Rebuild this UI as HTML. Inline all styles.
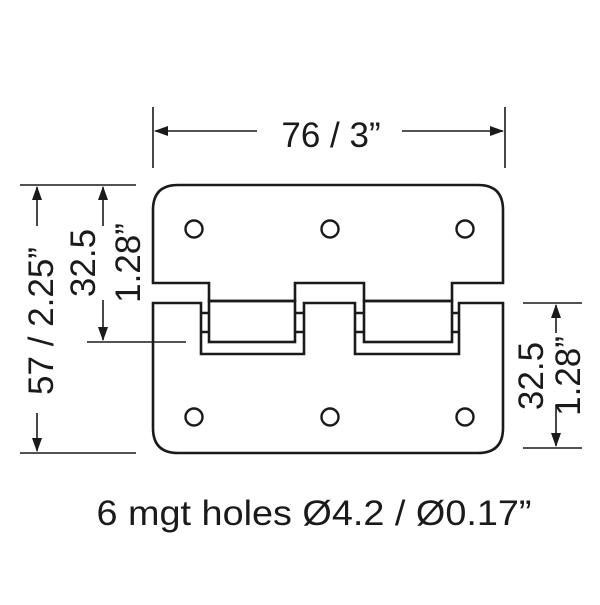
<!DOCTYPE html>
<html><head><meta charset="utf-8"><style>html,body{margin:0;padding:0;background:#fff}</style></head>
<body>
<svg width="600" height="600" viewBox="0 0 600 600" xmlns="http://www.w3.org/2000/svg">
<defs>
<marker id="a" markerWidth="14" markerHeight="10" refX="13" refY="5" orient="auto" markerUnits="userSpaceOnUse">
<path d="M0,0 L14,5 L0,10 Z" fill="#1a1a1a"/></marker>
</defs>
<g fill="none" stroke="#1a1a1a" stroke-width="2.6">
<path d="M153,283 L153,210 Q153,185 178,185 L478,185 Q503,185 503,210 L503,283 L452,283 L452,301 L364,301 L364,283 L295,283 L295,301 L209,301 L209,283 Z"/>
<path d="M153,303 L201,303 L201,354 L304,354 L304,303 L355,303 L355,354 L459,354 L459,303 L503,303 L503,428 Q503,453 478,453 L178,453 Q153,453 153,428 Z"/>
<rect x="209" y="301" width="86" height="41"/>
<rect x="364" y="301" width="88" height="41"/>
<path d="M201,313 H209 M201,332 H209 M295,313 H304 M295,332 H304 M355,313 H364 M355,332 H364 M452,313 H459 M452,332 H459"/>
</g>
<g fill="none" stroke="#1a1a1a" stroke-width="2.4">
<circle cx="194" cy="229" r="8.5"/><circle cx="330" cy="229" r="8.5"/><circle cx="465" cy="229" r="8.5"/>
<circle cx="194" cy="417" r="8.5"/><circle cx="330" cy="417" r="8.5"/><circle cx="465" cy="417" r="8.5"/>
</g>
<g stroke="#1a1a1a" stroke-width="1.6" fill="none">
<line x1="153" y1="107" x2="153" y2="168"/><line x1="505" y1="107" x2="505" y2="168"/>
<line x1="257" y1="131" x2="155" y2="131" marker-end="url(#a)"/>
<line x1="402" y1="131" x2="503" y2="131" marker-end="url(#a)"/>
<line x1="20" y1="185" x2="136" y2="185"/><line x1="20" y1="453" x2="136" y2="453"/>
<line x1="87" y1="342" x2="186" y2="342"/>
<line x1="37" y1="226" x2="37" y2="187" marker-end="url(#a)"/>
<line x1="37" y1="413" x2="37" y2="451" marker-end="url(#a)"/>
<line x1="103" y1="226" x2="103" y2="187" marker-end="url(#a)"/>
<line x1="103" y1="300" x2="103" y2="340" marker-end="url(#a)"/>
<line x1="523" y1="303" x2="582" y2="303"/><line x1="523" y1="448" x2="582" y2="448"/>
<line x1="556" y1="333" x2="556" y2="305" marker-end="url(#a)"/>
<line x1="556" y1="405" x2="556" y2="446" marker-end="url(#a)"/>
</g>
<g font-family="Liberation Sans, sans-serif" fill="#1a1a1a" font-size="35">
<text x="331" y="147" text-anchor="middle">76 / 3”</text>
<text x="314" y="525" text-anchor="middle" textLength="435" lengthAdjust="spacingAndGlyphs">6 mgt holes Ø4.2 / Ø0.17”</text>
<text transform="translate(53,321) rotate(-90)" text-anchor="middle">57 / 2.25”</text>
<text transform="translate(95,263) rotate(-90)" text-anchor="middle">32.5</text>
<text transform="translate(140,263) rotate(-90)" text-anchor="middle">1.28”</text>
<text transform="translate(543,376) rotate(-90)" text-anchor="middle">32.5</text>
<text transform="translate(580,376) rotate(-90)" text-anchor="middle">1.28”</text>
</g>
</svg>
</body></html>
